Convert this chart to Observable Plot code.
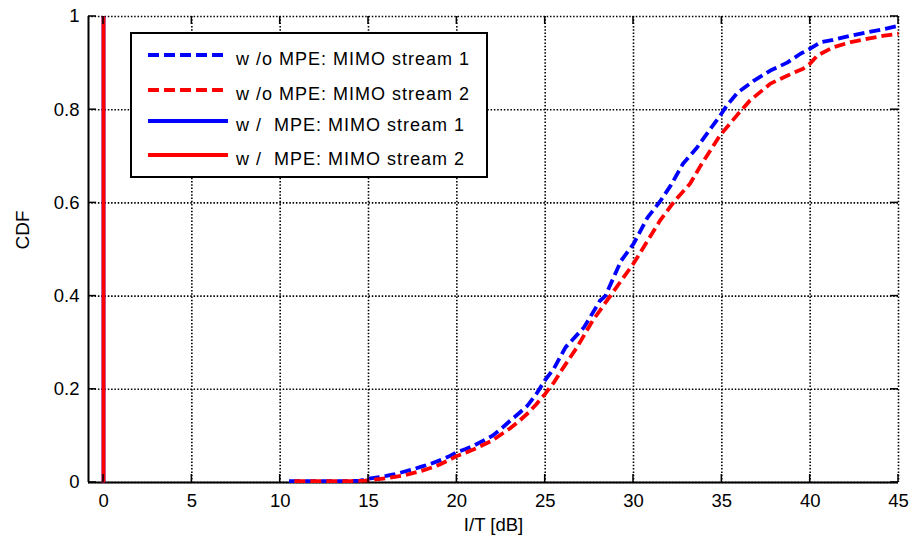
<!DOCTYPE html>
<html>
<head>
<meta charset="utf-8">
<script src="https://cdn.jsdelivr.net/npm/d3@7"></script>
<script src="https://cdn.jsdelivr.net/npm/@observablehq/plot@0.6"></script>
<style>
  body { margin: 0; background: #fff; }
  #chart svg { display: block; }
</style>
</head>
<body>
<div id="chart"></div>
<script>
// Axis ticks and extent
const xTicks = [0, 5, 10, 15, 20, 25, 30, 35, 40, 45];
const yTicks = [0, 0.2, 0.4, 0.6, 0.8, 1];
const xDomain = [-0.85, 45];
const yDomain = [0, 1];

// Series labels (legend order)
const seriesNames = [
  "w /o MPE: MIMO stream 1",
  "w /o MPE: MIMO stream 2",
  "w /  MPE: MIMO stream 1",
  "w /  MPE: MIMO stream 2"
];

// w/o MPE, stream 1: I/T [dB] and CDF
const noMpeS1X = [10.5, 12, 13, 14, 14.5, 15, 15.5, 16, 16.5, 17, 17.5, 18, 18.5, 19, 19.5, 20, 20.5, 21, 21.5, 22, 22.5, 23, 23.5, 24, 24.5, 25, 25.5, 26.15, 27.2, 28.1, 28.4, 29.3, 30, 30.8, 31.5, 32.1, 32.8, 33.6, 34.2, 34.9, 35.3, 35.9, 36.8, 37.75, 38.7, 39.45, 40, 40.6, 41.3, 42.3, 43.2, 44.2, 45];
const noMpeS1Y = [0.003, 0.003, 0.003, 0.003, 0.004, 0.008, 0.011, 0.014, 0.018, 0.023, 0.028, 0.034, 0.04, 0.047, 0.055, 0.065, 0.072, 0.08, 0.09, 0.1, 0.115, 0.132, 0.148, 0.165, 0.19, 0.22, 0.245, 0.29, 0.333, 0.39, 0.40, 0.476, 0.512, 0.569, 0.603, 0.637, 0.684, 0.719, 0.751, 0.787, 0.81, 0.837, 0.862, 0.884, 0.901, 0.92, 0.931, 0.945, 0.95, 0.959, 0.966, 0.973, 0.98];

// w/o MPE, stream 2
const noMpeS2X = [10.8, 12, 13, 14, 14.8, 15.3, 16, 16.5, 17, 17.5, 18, 18.5, 19, 19.5, 20, 20.5, 21, 21.5, 22, 22.5, 23, 23.5, 24, 24.5, 25, 25.5, 26, 26.8, 27.7, 28.7, 30, 30.8, 31.5, 32.3, 33.2, 33.8, 34.9, 35.9, 36.6, 37.75, 38.7, 39.6, 40, 40.4, 41.3, 42.3, 43.2, 44.2, 45];
const noMpeS2Y = [0.003, 0.003, 0.003, 0.003, 0.004, 0.006, 0.009, 0.012, 0.015, 0.02, 0.025, 0.031, 0.038, 0.047, 0.057, 0.064, 0.072, 0.081, 0.09, 0.103, 0.116, 0.131, 0.148, 0.168, 0.19, 0.215, 0.245, 0.29, 0.348, 0.401, 0.47, 0.519, 0.562, 0.603, 0.641, 0.68, 0.745, 0.79, 0.82, 0.856, 0.873, 0.888, 0.899, 0.916, 0.934, 0.945, 0.952, 0.959, 0.963];

// w/ MPE: residual I/T collapses to 0 dB for both streams (step CDF)
const mpeS1X = [0, 0];
const mpeS1Y = [0, 1];
const mpeS2X = [0, 0];
const mpeS2Y = [0, 1];

const colors = ["#0000ff", "#ff0000", "#0000ff", "#ff0000"];
const dashes = ["11,5", "11,5", null, null];

const toRows = (xs, ys) => xs.map((x, i) => ({x, y: ys[i]}));
const series = [
  toRows(noMpeS1X, noMpeS1Y),
  toRows(noMpeS2X, noMpeS2Y),
  toRows(mpeS1X, mpeS1Y),
  toRows(mpeS2X, mpeS2Y)
];

const FONT = "'Liberation Sans', Arial, sans-serif";
const gridStyle = {stroke: "#000", strokeOpacity: 1, strokeWidth: 1.6, strokeDasharray: "1.5,1.8"};

// draw solid (w/ MPE) first, then dashed curves on top
const drawOrder = [2, 3, 0, 1];

const plot = Plot.plot({
  width: 913,
  height: 544,
  marginLeft: 88,
  marginRight: 15,
  marginTop: 16,
  marginBottom: 62,
  style: {background: "#fff", color: "#000", fontFamily: FONT},
  x: {domain: xDomain},
  y: {domain: yDomain},
  marks: [
    Plot.gridX(xTicks, gridStyle),
    Plot.gridY(yTicks, gridStyle),
    Plot.ruleY([yDomain[0]], {stroke: "#000", strokeWidth: 2}),
    Plot.ruleX([xDomain[0]], {stroke: "#000", strokeWidth: 2}),
    ...drawOrder.map(i => Plot.line(series[i], {
      x: "x", y: "y",
      stroke: colors[i],
      strokeWidth: 3.8,
      strokeDasharray: dashes[i],
      strokeLinecap: "butt",
      strokeLinejoin: "round"
    })),
    Plot.axisX(xTicks, {tickSize: 0, tickPadding: 11, fontSize: 18.5, label: null, tickFormat: d => String(d)}),
    Plot.axisY(yTicks, {tickSize: 0, tickPadding: 9, fontSize: 18.5, label: null,
      tickFormat: d => (d === 0 || d === 1) ? String(d) : d.toFixed(1)}),
    Plot.text(["I/T [dB]"], {frameAnchor: "bottom", dy: 48, fontSize: 18.5, fill: "#000"}),
    Plot.text(["CDF"], {frameAnchor: "left", dx: -66, rotate: -90, fontSize: 19, fill: "#000"})
  ]
});

document.getElementById("chart").append(plot);

// Inward tick marks on all four sides of the frame
const sx = plot.scale("x"), sy = plot.scale("y");
const svg = d3.select(plot);
const x0 = sx.apply(xDomain[0]), x1 = sx.apply(xDomain[1]);
const y0 = sy.apply(yDomain[0]), y1 = sy.apply(yDomain[1]);
const T = 8;
const ticks = svg.append("g").attr("stroke", "#000").attr("stroke-width", 1.5);
xTicks.forEach(v => {
  const px = sx.apply(v);
  ticks.append("line").attr("x1", px).attr("x2", px).attr("y1", y0).attr("y2", y0 - T);
  ticks.append("line").attr("x1", px).attr("x2", px).attr("y1", y1).attr("y2", y1 + T);
});
yTicks.forEach(v => {
  const py = sy.apply(v);
  ticks.append("line").attr("y1", py).attr("y2", py).attr("x1", x0).attr("x2", x0 + T);
  ticks.append("line").attr("y1", py).attr("y2", py).attr("x1", x1).attr("x2", x1 - T);
});

// Legend box in the upper-left of the frame
const legend = svg.append("g")
  .attr("font-family", FONT)
  .attr("font-size", 18)
  .attr("text-anchor", "start");
legend.append("rect")
  .attr("x", 131).attr("y", 33).attr("width", 356).attr("height", 144)
  .attr("fill", "#fff").attr("stroke", "#000").attr("stroke-width", 2);
const rowY = [55, 90, 121, 155];
seriesNames.forEach((name, i) => {
  legend.append("line")
    .attr("x1", 148).attr("x2", 228).attr("y1", rowY[i]).attr("y2", rowY[i])
    .attr("stroke", colors[i]).attr("stroke-width", 3.8)
    .attr("stroke-dasharray", dashes[i]);
  legend.append("text")
    .attr("x", 236).attr("y", rowY[i] + 10)
    .attr("fill", "#000")
    .attr("text-anchor", "start")
    .attr("letter-spacing", 1)
    .style("white-space", "pre")
    .text(name);
});
</script>
</body>
</html>
